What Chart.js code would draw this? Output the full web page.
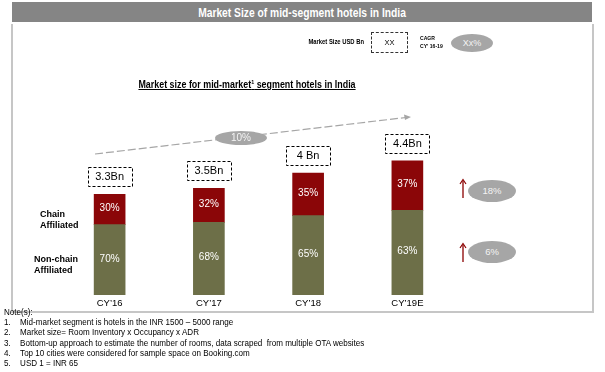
<!DOCTYPE html>
<html>
<head>
<meta charset="utf-8">
<script src="https://cdn.jsdelivr.net/npm/chart.js@4/dist/chart.umd.min.js"></script>
<style>
body { margin: 0; width: 605px; height: 372px; position: relative; overflow: hidden; background: #fff;
       font-family: "Liberation Sans", Arial, sans-serif; color: #000; }
.abs { position: absolute; white-space: nowrap; }
#chart { position: absolute; left: 0; top: 0; }
.header { left: 12px; top: 2px; width: 580px; height: 20px; background: #858585; }
.header span { position: absolute; left: 0; right: 0; top: 3px; text-align: center; color: #fff;
               font-size: 13px; font-weight: bold; transform: scaleX(0.79); }
.frame { background: #c6c6c6; }
.sub { left: 0; width: 494px; top: 79px; text-align: center; font-size: 10px; font-weight: bold;
       text-decoration: underline; transform: scaleX(0.89); }
.sub sup { font-size: 6px; vertical-align: 4px; line-height: 0; }
.small { font-size: 6.5px; font-weight: bold; }
.ell { background: #a6a6a6; border-radius: 50%; color: #f4f4f4; text-align: center; font-weight: normal; }
.seg { font-size: 9px; font-weight: bold; line-height: 11px; }
.notes { left: 4px; top: 307px; font-size: 9px; line-height: 10.2px; transform: scaleX(0.895); transform-origin: left top; }
.notes div span { display: inline-block; width: 18px; }
</style>
</head>
<body>
<canvas id="chart" width="605" height="372"></canvas>

<div class="abs header"><span>Market Size of mid-segment hotels in India</span></div>
<div class="abs frame" style="left:11px;top:24px;width:2px;height:288px"></div>
<div class="abs frame" style="left:592px;top:24px;width:2px;height:288px"></div>
<div class="abs frame" style="left:11px;top:311px;width:583px;height:2px"></div>

<div class="abs small" style="left:284px;top:38px;width:80px;text-align:right;transform:scaleX(0.9);transform-origin:right">Market Size USD Bn</div>
<div class="abs" style="left:371px;top:32px;width:35px;height:19px;border:1px dashed #333;font-size:7.5px;line-height:19px;text-align:center">XX</div>
<div class="abs small" style="left:420px;top:34px;font-size:6px;line-height:8px;transform:scaleX(0.85);transform-origin:left">CAGR<br>CY' 16-19</div>
<div class="abs ell" style="left:451px;top:34px;width:42px;height:18px;font-size:9px;line-height:18px">Xx%</div>

<div class="abs sub">Market size for mid-market<sup>1</sup> segment hotels in India</div>

<svg class="abs" style="left:0;top:0" width="605" height="372">
  <line x1="95" y1="154" x2="406" y2="117.5" stroke="#a6a6a6" stroke-width="1.2" stroke-dasharray="8 3"/>
  <polygon points="411,117 404,114.5 405,120" fill="#a6a6a6"/>
  <line x1="463" y1="198" x2="463" y2="181" stroke="#8b0000" stroke-width="1.3"/>
  <polyline points="460,184 463,179.5 466,184" fill="none" stroke="#8b0000" stroke-width="1.2"/>
  <line x1="463" y1="262" x2="463" y2="245" stroke="#8b0000" stroke-width="1.3"/>
  <polyline points="460,248 463,243.5 466,248" fill="none" stroke="#8b0000" stroke-width="1.2"/>
</svg>
<div class="abs ell" id="cagrAll" style="left:215px;top:131px;width:52px;height:14px;font-size:10px;line-height:14px"></div>
<div class="abs ell" id="cagr0" style="left:468px;top:180px;width:48px;height:22px;font-size:9.5px;line-height:22px"></div>
<div class="abs ell" id="cagr1" style="left:468px;top:241px;width:48px;height:22px;font-size:9.5px;line-height:22px"></div>

<div class="abs seg" id="lab0" style="left:40px;top:209px"></div>
<div class="abs seg" id="lab1" style="left:34px;top:254px"></div>

<div class="abs notes">
  <div>Note(s):</div>
  <div><span>1.</span>Mid-market segment is hotels in the INR 1500 – 5000 range</div>
  <div><span>2.</span>Market size= Room Inventory x Occupancy x ADR</div>
  <div><span>3.</span>Bottom-up approach to estimate the number of rooms, data scraped &nbsp;from multiple OTA websites</div>
  <div><span>4.</span>Top 10 cities were considered for sample space on Booking.com</div>
  <div><span>5.</span>USD 1 = INR 65</div>
</div>

<script>
const years = ["CY’16", "CY’17", "CY’18", "CY’19E"];
const totals = [3.3, 3.5, 4.0, 4.4];
const totalLabels = ["3.3Bn", "3.5Bn", "4 Bn", "4.4Bn"];
const chainShare = [30, 32, 35, 37];
const nonChainShare = [70, 68, 65, 63];
const seriesNames = [["Chain", "Affiliated"], ["Non-chain", "Affiliated"]];
const segmentCagr = ["18%", "6%"];
const overallCagr = "10%";

const chainColor = "#8b0608";
const nonChainColor = "#6d6f48";

document.getElementById("lab0").innerHTML = seriesNames[0].join("<br>");
document.getElementById("lab1").innerHTML = seriesNames[1].join("<br>");
document.getElementById("cagr0").textContent = segmentCagr[0];
document.getElementById("cagr1").textContent = segmentCagr[1];
document.getElementById("cagrAll").textContent = overallCagr;

const share = (pcts) => pcts.map((p, i) => totals[i] * p / 100);

const barLabels = {
    id: "barLabels",
    afterDatasetsDraw(chart) {
        const ctx = chart.ctx;
        ctx.save();
        ctx.textAlign = "center";
        ctx.textBaseline = "middle";
        ctx.font = "10px 'Liberation Sans', Arial";
        ctx.fillStyle = "#fff";
        const pcts = [nonChainShare, chainShare];
        chart.data.datasets.forEach((ds, d) => {
            chart.getDatasetMeta(d).data.forEach((bar, i) => {
                ctx.fillText(pcts[d][i] + "%", bar.x, (bar.y + bar.base) / 2 - 1);
            });
        });
        // total boxes above each stack
        const top = chart.getDatasetMeta(1).data;
        ctx.font = "11px 'Liberation Sans', Arial";
        ctx.fillStyle = "#000";
        ctx.strokeStyle = "#000";
        ctx.lineWidth = 1;
        ctx.setLineDash([3, 2]);
        top.forEach((bar, i) => {
            const w = 44, h = 19, b = bar.y - 8;
            ctx.strokeRect(Math.round(bar.x - w / 2) + 0.5, Math.round(b - h) + 0.5, w, h);
            ctx.fillText(totalLabels[i], bar.x, b - h / 2 + 0.5);
        });
        ctx.restore();
    }
};

new Chart(document.getElementById("chart"), {
    type: "bar",
    data: {
        labels: years,
        datasets: [
            {label: "Non-chain Affiliated", data: share(nonChainShare), backgroundColor: nonChainColor},
            {label: "Chain Affiliated", data: share(chainShare), backgroundColor: chainColor}
        ]
    },
    options: {
        responsive: false,
        animation: false,
        events: [],
        barThickness: 31,
        layout: {padding: {left: 60, right: 148, top: 112, bottom: 63}},
        plugins: {legend: {display: false}, tooltip: {enabled: false}},
        scales: {
            x: {
                stacked: true,
                grid: {display: false, drawTicks: false},
                border: {display: false},
                ticks: {color: "#000", padding: 3, font: {size: 9.5, family: "'Liberation Sans', Arial"}},
                afterFit: s => { s.height = 14; }
            },
            y: {stacked: true, min: 0, max: 6, display: false}
        }
    },
    plugins: [barLabels]
});
</script>
</body>
</html>
